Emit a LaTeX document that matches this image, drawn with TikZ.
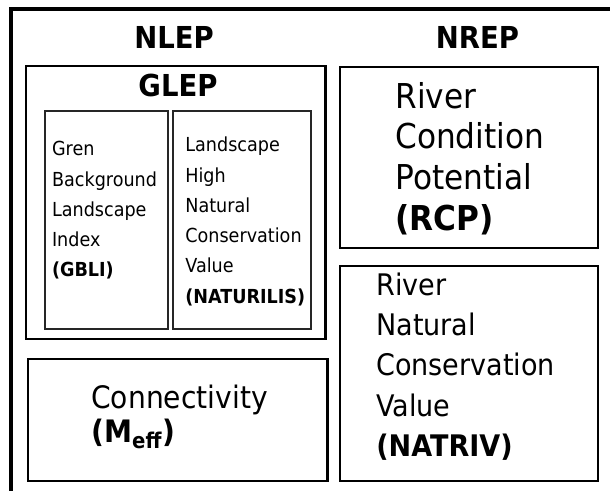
\documentclass[tikz,border=0pt]{standalone}
\usepackage{fontspec}
\setmainfont{DejaVu Sans}[FakeStretch=0.91]
\usepackage{tikz}
\tikzset{
  panelbox/.style={draw=black, line width=1.15pt, inner sep=0pt},
  cellbox/.style={draw=black!85, line width=0.85pt, inner sep=0pt},
  headtext/.style={font=\fontsize{17.2}{20}\selectfont\bfseries, inner sep=0pt},
  celltext/.style={font=\fontsize{11}{17.2}\selectfont, align=left, inner sep=0pt, anchor=west},
  rcptext/.style={font=\fontsize{19.5}{23.1}\selectfont, align=left, inner sep=0pt, anchor=west},
  rivtext/.style={font=\fontsize{16.9}{22.8}\selectfont, align=left, inner sep=0pt, anchor=west},
  context/.style={font=\fontsize{17.6}{19.4}\selectfont, align=left, inner sep=0pt, anchor=west},
}

\begin{document}
\begin{tikzpicture}[x=1cm,y=1cm]
\path[use as bounding box] (0,0) rectangle (12.2,9.82);
% outer frame, cut by the page
\begin{scope}
\clip (0,0) rectangle (12.2,9.82);
\draw[line width=2.3pt] (0.22,-0.5) -- (0.22,9.64) -- (12.8,9.64);
\end{scope}

\node[headtext] (nlep) at (3.48,9.07) {NLEP};
\node[headtext] (nrep) at (9.55,9.07) {NREP};

% left column
\node[panelbox,minimum width=5.99cm,minimum height=5.46cm] (glep) at (3.515,5.77) {};
\node[headtext] (gleptitle) at (3.56,8.10) {GLEP};
\node[cellbox,minimum width=2.46cm,minimum height=4.36cm] (gblibox) at (2.13,5.42) {};
\node[cellbox,minimum width=2.76cm,minimum height=4.36cm] (natbox) at (4.84,5.42) {};
\node[celltext] (gbli) at (1.034,5.61) {Gren\\Background\\Landscape\\Index\\\textbf{(GBLI)}};
\node[celltext] (naturilis) at (3.70,5.39) {Landscape\\High\\Natural\\Conservation\\Value\\\textbf{(NATURILIS)}};

\node[panelbox,minimum width=5.99cm,minimum height=2.44cm] (meffbox) at (3.555,1.42) {};
\node[context] (meff) at (1.82,1.48) {Connectivity\\\textbf{(M\textsubscript{eff})}};

% right column
\node[panelbox,minimum width=5.16cm,minimum height=3.62cm] (rcpbox) at (9.38,6.67) {};
\node[rcptext] (rcp) at (7.90,6.652) {River\\Condition\\Potential\\\textbf{(RCP)}};
\node[panelbox,minimum width=5.16cm,minimum height=4.30cm] (natrivbox) at (9.38,2.35) {};
\node[rivtext] (natriv) at (7.52,2.487) {River\\Natural\\Conservation\\Value\\\textbf{(NATRIV)}};
\end{tikzpicture}
\end{document}
